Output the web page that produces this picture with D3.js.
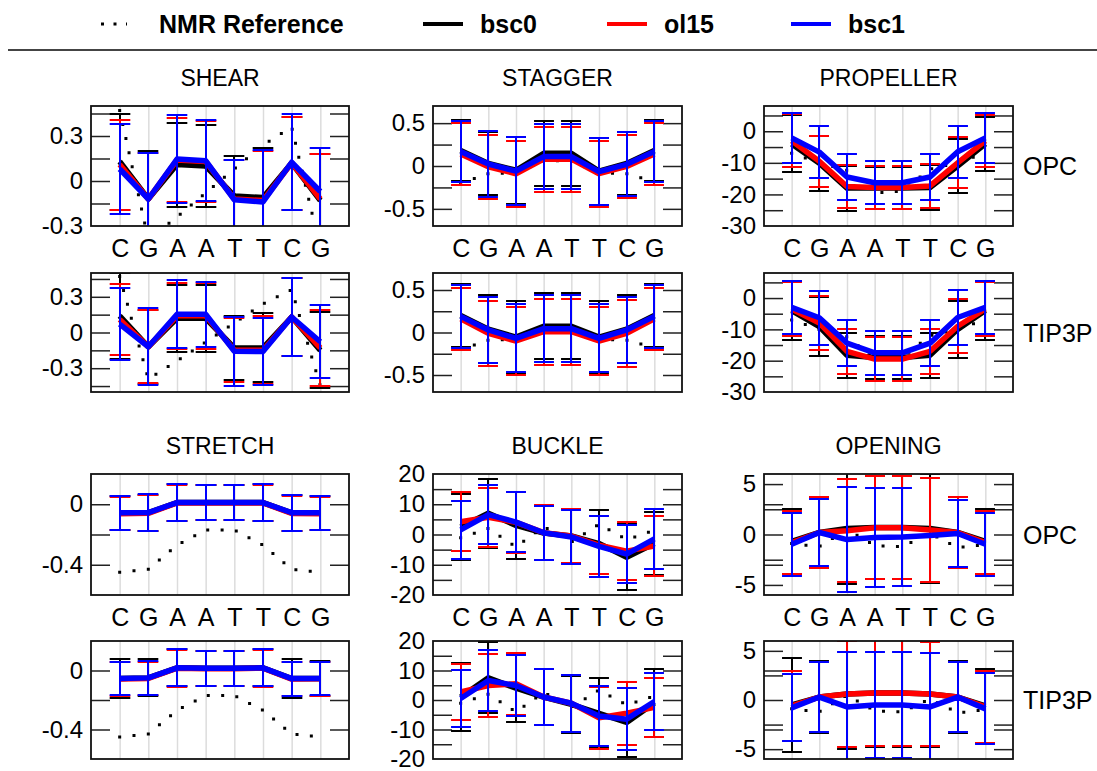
<!DOCTYPE html>
<html lang="en">
<head>
	<meta charset="utf-8" />
	<title>Base pair parameters</title>
	<style>
		* { padding: 0; margin: 0; }
		body { background: white; }
		svg { display: block; font-family: "Liberation Sans", Arial, sans-serif; }
	</style>
</head>
<body>

<script src="https://d3js.org/d3.v7.min.js"></script>

<div id="chart"></div>

<script>

	// ---- data ----
	var bases = ["C", "G", "A", "A", "T", "T", "C", "G"];
	var seriesNames = ["bsc0", "ol15", "bsc1"];
	var seriesColors = ["#000000", "#ff0000", "#0000ff"];

	var nmrShear = [0.47, -0.39, -0.24, -0.08, 0.08, 0.24, 0.36, -0.45];
	var nmrStagger = [-0.2, -0.09, -0.08, 0.06, 0.06, -0.08, -0.09, -0.18];
	var nmrPropeller = [-7, -10, -12.4, -19.5, -19, -12, -10, -6.8];
	var nmrStretch = [-0.45, -0.43, -0.27, -0.17, -0.17, -0.27, -0.43, -0.45];
	var nmrBuckle = [-1.1, 2.0, -4.1, 2.6, -2.5, 3.4, -1.7, 1.4];
	var nmrOpening = [-0.9, -1.2, 0.5, -1.1, -1.2, 0.1, -1.3, -1.0];

	var shearOpcBsc0 = [0.13, -0.12, 0.11, 0.10, -0.10, -0.11, 0.12, -0.13];
	var shearOpcOl15 = [0.11, -0.12, 0.14, 0.13, -0.12, -0.13, 0.12, -0.12];
	var shearOpcBsc1 = [0.08, -0.12, 0.146, 0.135, -0.125, -0.14, 0.125, -0.07];
	var shearOpcBsc0Sd = [0.32, 0.32, 0.28, 0.275, 0.27, 0.33, 0.31, 0.31];
	var shearOpcOl15Sd = [0.30, 0.31, 0.28, 0.27, 0.26, 0.33, 0.31, 0.30];
	var shearOpcBsc1Sd = [0.30, 0.31, 0.295, 0.27, 0.265, 0.35, 0.32, 0.29];

	var shearTipBsc0 = [0.14, -0.12, 0.12, 0.12, -0.13, -0.13, 0.13, -0.15];
	var shearTipOl15 = [0.11, -0.12, 0.14, 0.14, -0.15, -0.15, 0.13, -0.13];
	var shearTipBsc1 = [0.07, -0.12, 0.153, 0.153, -0.158, -0.16, 0.13, -0.078];
	var shearTipBsc0Sd = [0.36, 0.31, 0.28, 0.28, 0.27, 0.29, 0.325, 0.32];
	var shearTipOl15Sd = [0.30, 0.305, 0.28, 0.28, 0.27, 0.285, 0.33, 0.32];
	var shearTipBsc1Sd = [0.305, 0.325, 0.285, 0.275, 0.29, 0.28, 0.325, 0.305];

	var staggerOpcBsc0 = [0.18, 0.03, -0.05, 0.148, 0.148, -0.06, 0.03, 0.18];
	var staggerOpcOl15 = [0.14, -0.01, -0.09, 0.08, 0.08, -0.09, -0.005, 0.14];
	var staggerOpcBsc1 = [0.17, 0.023, -0.06, 0.11, 0.11, -0.065, 0.02, 0.17];
	var staggerOpcBsc0Sd = [0.36, 0.37, 0.39, 0.38, 0.38, 0.39, 0.37, 0.36];
	var staggerOpcOl15Sd = [0.36, 0.37, 0.385, 0.38, 0.38, 0.385, 0.37, 0.36];
	var staggerOpcBsc1Sd = [0.355, 0.38, 0.395, 0.38, 0.38, 0.395, 0.375, 0.355];

	var staggerTipBsc0 = [0.2, 0.04, -0.054, 0.074, 0.074, -0.054, 0.04, 0.2];
	var staggerTipOl15 = [0.16, -0.01, -0.1, 0.01, 0.01, -0.1, -0.01, 0.16];
	var staggerTipBsc1 = [0.19, 0.03, -0.07, 0.045, 0.045, -0.07, 0.03, 0.19];
	var staggerTipBsc0Sd = [0.37, 0.4, 0.42, 0.39, 0.39, 0.42, 0.4, 0.37];
	var staggerTipOl15Sd = [0.36, 0.385, 0.4, 0.39, 0.39, 0.4, 0.39, 0.36];
	var staggerTipBsc1Sd = [0.37, 0.39, 0.4, 0.395, 0.395, 0.4, 0.39, 0.37];

	var propellerOpcBsc0 = [-4, -10.1, -18, -18, -18, -17.8, -11, -4];
	var propellerOpcOl15 = [-3, -9.5, -17.5, -17.8, -17.8, -17.3, -10, -3];
	var propellerOpcBsc1 = [-2.1, -6.6, -14.5, -16.3, -16.3, -14.5, -6.5, -2.1];
	var propellerOpcBsc0Sd = [9, 8.7, 7.1, 6.75, 6.75, 7.1, 8.7, 8.5];
	var propellerOpcOl15Sd = [8.4, 8.1, 6.9, 6.75, 6.75, 6.9, 8.1, 8.2];
	var propellerOpcBsc1Sd = [7.8, 8.3, 7.25, 6.8, 6.8, 7.25, 8.3, 7.8];

	var propellerTipBsc0 = [-4, -9.1, -18.3, -19, -19, -18.3, -10, -4];
	var propellerTipOl15 = [-3.5, -8, -17, -19.5, -19.5, -17, -9, -3.5];
	var propellerTipBsc1 = [-3, -6.3, -14.4, -17.5, -17.5, -14.4, -6.2, -3];
	var propellerTipBsc0Sd = [9.5, 9.5, 7.3, 6.9, 6.9, 7.3, 9.2, 9.3];
	var propellerTipOl15Sd = [8.6, 8.6, 7.25, 7.1, 7.1, 7.25, 8.6, 8.6];
	var propellerTipBsc1Sd = [8.45, 8.65, 7.3, 6.95, 6.95, 7.3, 8.7, 8.4];

	var stretchOpcBsc0 = [-0.058, -0.056, 0.011, 0.011, 0.011, 0.011, -0.057, -0.058];
	var stretchOpcOl15 = [-0.062, -0.06, 0.009, 0.009, 0.009, 0.009, -0.061, -0.062];
	var stretchOpcBsc1 = [-0.057, -0.055, 0.011, 0.011, 0.011, 0.011, -0.056, -0.057];
	var stretchOpcBsc0Sd = [0.11, 0.12, 0.12, 0.116, 0.116, 0.12, 0.118, 0.11];
	var stretchOpcOl15Sd = [0.11, 0.12, 0.12, 0.116, 0.116, 0.12, 0.118, 0.11];
	var stretchOpcBsc1Sd = [0.11, 0.12, 0.12, 0.116, 0.116, 0.12, 0.118, 0.11];

	var stretchTipBsc0 = [-0.054, -0.05, 0.018, 0.015, 0.015, 0.018, -0.055, -0.055];
	var stretchTipOl15 = [-0.058, -0.054, 0.016, 0.012, 0.012, 0.016, -0.058, -0.056];
	var stretchTipBsc1 = [-0.055, -0.05, 0.018, 0.015, 0.015, 0.018, -0.055, -0.055];
	var stretchTipBsc0Sd = [0.13, 0.125, 0.125, 0.12, 0.12, 0.125, 0.13, 0.118];
	var stretchTipOl15Sd = [0.113, 0.115, 0.125, 0.12, 0.12, 0.125, 0.115, 0.115];
	var stretchTipBsc1Sd = [0.113, 0.113, 0.125, 0.12, 0.12, 0.125, 0.115, 0.113];

	var buckleOpcBsc0 = [2.5, 7, 3, 0.5, -0.5, -3, -7.5, -3];
	var buckleOpcOl15 = [4.2, 5.7, 4, 0.6, -0.5, -3.5, -5.5, -3.8];
	var buckleOpcBsc1 = [1.5, 6.6, 4.1, 0.56, -0.8, -3.9, -6.5, -1.45];
	var buckleOpcBsc0Sd = [11, 11.5, 11.2, 9, 9, 11, 10.9, 10.5];
	var buckleOpcOl15Sd = [9.8, 9.8, 10, 9, 9, 9.5, 9.6, 10];
	var buckleOpcBsc1Sd = [9.6, 9.8, 9.95, 8.9, 8.8, 10, 9.6, 9.9];

	var buckleTipBsc0 = [1, 7.5, 4, 1, -1.5, -4.5, -7.6, -1];
	var buckleTipOl15 = [2.7, 4.9, 5.5, 1, -1.1, -6, -4.5, -2.5];
	var buckleTipBsc1 = [0.5, 6.6, 4.9, 1, -1.1, -5.4, -6.5, -0.5];
	var buckleTipBsc0Sd = [11.5, 12, 11.5, 9.4, 9.6, 11.8, 11.8, 11.4];
	var buckleTipOl15Sd = [9.5, 10.6, 10.5, 9.4, 9.6, 10.5, 10.6, 9.9];
	var buckleTipBsc1Sd = [9.8, 10.4, 10.2, 9.4, 9.6, 10.3, 10.4, 9.8];

	var openingOpcBsc0 = [-0.67, 0.2, 0.6, 0.7, 0.7, 0.6, 0.2, -0.67];
	var openingOpcOl15 = [-0.8, 0.2, 0.37, 0.67, 0.67, 0.45, 0.2, -0.8];
	var openingOpcBsc1 = [-0.97, 0.2, -0.5, -0.3, -0.25, -0.1, 0.1, -0.97];
	var openingOpcBsc0Sd = [3.2, 3.5, 5.5, 5.1, 5.1, 5.4, 3.5, 3.2];
	var openingOpcOl15Sd = [3.1, 3.5, 5.1, 5.1, 5.1, 5.2, 3.5, 3.1];
	var openingOpcBsc1Sd = [3.1, 3.3, 5.2, 4.9, 4.9, null, 3.3, 3.1];

	var openingTipBsc0 = [-0.5, 0.3, 0.6, 0.7, 0.7, 0.6, 0.3, -0.6];
	var openingTipOl15 = [-0.6, 0.3, 0.6, 0.7, 0.7, 0.6, 0.3, -0.7];
	var openingTipBsc1 = [-0.8, 0.3, -0.7, -0.5, -0.5, -0.7, 0.3, -0.9];
	var openingTipBsc0Sd = [4.8, 3.7, 5.6, 5.5, 5.5, 5.4, 3.7, 3.8];
	var openingTipOl15Sd = [3.6, 3.6, 5.4, 5.4, 5.4, 5.3, 3.6, 3.7];
	var openingTipBsc1Sd = [3.4, 3.6, 5.6, 5.4, 5.4, 5.5, 3.6, 3.6];

	// axis ticks and tick labels
	var shearOpcTicks = [-0.15, 0, 0.15, 0.3, 0.45];
	var shearTipTicks = [-0.45, -0.3, -0.15, 0, 0.15, 0.3, 0.45];
	var shearLabels = [-0.3, 0, 0.3];
	var staggerTicks = [-0.5, -0.25, 0, 0.25, 0.5];
	var staggerLabels = [-0.5, 0, 0.5];
	var propellerTicks = [5, 0, -5, -10, -15, -20, -25];
	var propellerLabels = [0, -10, -20, -30];
	var stretchTicks = [0, -0.2, -0.4];
	var stretchLabels = [0, -0.4];
	var buckleTicks = [15, 10, 5, 0, -5, -10, -15];
	var buckleLabels = [20, 10, 0, -10, -20];
	var openingTicks = [5, 3, 2.5, 0, -2.5, -3, -5];
	var openingLabels = [5, 0, -5];

	// ---- layout ----
	var W = 1097, H = 771;
	var colX = [[91, 349], [433, 682], [764, 1013]];
	var rowY = [[106, 226], [273, 392], [474, 595], [641, 759]];

	var panels = [
		{title: "SHEAR", water: "OPC", col: 0, row: 0, domain: [-0.3, 0.5], ticks: shearOpcTicks, labels: shearLabels, nmr: nmrShear,
		 means: [shearOpcBsc0, shearOpcOl15, shearOpcBsc1], sds: [shearOpcBsc0Sd, shearOpcOl15Sd, shearOpcBsc1Sd]},
		{title: "SHEAR", water: "TIP3P", col: 0, row: 1, domain: [-0.5, 0.5], ticks: shearTipTicks, labels: shearLabels, nmr: nmrShear,
		 means: [shearTipBsc0, shearTipOl15, shearTipBsc1], sds: [shearTipBsc0Sd, shearTipOl15Sd, shearTipBsc1Sd]},
		{title: "STAGGER", water: "OPC", col: 1, row: 0, domain: [-0.7, 0.7], ticks: staggerTicks, labels: staggerLabels, nmr: nmrStagger,
		 means: [staggerOpcBsc0, staggerOpcOl15, staggerOpcBsc1], sds: [staggerOpcBsc0Sd, staggerOpcOl15Sd, staggerOpcBsc1Sd]},
		{title: "STAGGER", water: "TIP3P", col: 1, row: 1, domain: [-0.7, 0.7], ticks: staggerTicks, labels: staggerLabels, nmr: nmrStagger,
		 means: [staggerTipBsc0, staggerTipOl15, staggerTipBsc1], sds: [staggerTipBsc0Sd, staggerTipOl15Sd, staggerTipBsc1Sd]},
		{title: "PROPELLER", water: "OPC", col: 2, row: 0, domain: [-30, 8], ticks: propellerTicks, labels: propellerLabels, nmr: nmrPropeller,
		 means: [propellerOpcBsc0, propellerOpcOl15, propellerOpcBsc1], sds: [propellerOpcBsc0Sd, propellerOpcOl15Sd, propellerOpcBsc1Sd]},
		{title: "PROPELLER", water: "TIP3P", col: 2, row: 1, domain: [-30, 8], ticks: propellerTicks, labels: propellerLabels, nmr: nmrPropeller,
		 means: [propellerTipBsc0, propellerTipOl15, propellerTipBsc1], sds: [propellerTipBsc0Sd, propellerTipOl15Sd, propellerTipBsc1Sd]},
		{title: "STRETCH", water: "OPC", col: 0, row: 2, domain: [-0.6, 0.2], ticks: stretchTicks, labels: stretchLabels, nmr: nmrStretch,
		 means: [stretchOpcBsc0, stretchOpcOl15, stretchOpcBsc1], sds: [stretchOpcBsc0Sd, stretchOpcOl15Sd, stretchOpcBsc1Sd]},
		{title: "STRETCH", water: "TIP3P", col: 0, row: 3, domain: [-0.6, 0.2], ticks: stretchTicks, labels: stretchLabels, nmr: nmrStretch,
		 means: [stretchTipBsc0, stretchTipOl15, stretchTipBsc1], sds: [stretchTipBsc0Sd, stretchTipOl15Sd, stretchTipBsc1Sd]},
		{title: "BUCKLE", water: "OPC", col: 1, row: 2, domain: [-20, 20], ticks: buckleTicks, labels: buckleLabels, nmr: nmrBuckle,
		 means: [buckleOpcBsc0, buckleOpcOl15, buckleOpcBsc1], sds: [buckleOpcBsc0Sd, buckleOpcOl15Sd, buckleOpcBsc1Sd]},
		{title: "BUCKLE", water: "TIP3P", col: 1, row: 3, domain: [-20, 20], ticks: buckleTicks, labels: buckleLabels, nmr: nmrBuckle,
		 means: [buckleTipBsc0, buckleTipOl15, buckleTipBsc1], sds: [buckleTipBsc0Sd, buckleTipOl15Sd, buckleTipBsc1Sd]},
		{title: "OPENING", water: "OPC", col: 2, row: 2, domain: [-6, 6], ticks: openingTicks, labels: openingLabels, nmr: nmrOpening,
		 means: [openingOpcBsc0, openingOpcOl15, openingOpcBsc1], sds: [openingOpcBsc0Sd, openingOpcOl15Sd, openingOpcBsc1Sd]},
		{title: "OPENING", water: "TIP3P", col: 2, row: 3, domain: [-6, 6], ticks: openingTicks, labels: openingLabels, nmr: nmrOpening,
		 means: [openingTipBsc0, openingTipOl15, openingTipBsc1], sds: [openingTipBsc0Sd, openingTipOl15Sd, openingTipBsc1Sd]}
	];

	var svg = d3.select("#chart").append("svg")
		.attr("width", W)
		.attr("height", H);
	var defs = svg.append("defs");

	var fmt = function(d) { return String(d); };

	// ---- legend ----
	var legend = svg.append("g");
	legend.append("line")
		.attr("x1", 101).attr("x2", 127).attr("y1", 24).attr("y2", 24)
		.attr("stroke", "#000").attr("stroke-width", 3)
		.attr("stroke-dasharray", "3,9.5");
	legend.append("text")
		.attr("x", 159).attr("y", 33)
		.attr("font-size", 25).attr("font-weight", "bold")
		.text("NMR Reference");
	var legX = [423, 607, 791];
	seriesNames.forEach(function(name, i) {
		legend.append("line")
			.attr("x1", legX[i]).attr("x2", legX[i] + 40).attr("y1", 24).attr("y2", 24)
			.attr("stroke", seriesColors[i]).attr("stroke-width", 4);
		legend.append("text")
			.attr("x", legX[i] + 57).attr("y", 33)
			.attr("font-size", 25).attr("font-weight", "bold")
			.text(name);
	});
	svg.append("line")
		.attr("x1", 8).attr("x2", W).attr("y1", 50).attr("y2", 50)
		.attr("stroke", "#444").attr("stroke-width", 2);

	// ---- panels ----
	var drawPanel = function(p, k) {
		var x0 = colX[p.col][0], x1 = colX[p.col][1];
		var y0 = rowY[p.row][0], y1 = rowY[p.row][1];
		var xScale = d3.scaleLinear().domain([0, 9]).range([x0, x1]);
		var yScale = d3.scaleLinear().domain(p.domain).range([y1, y0]);
		var step = xScale(2) - xScale(1);
		var capW = step * 0.36;
		var idx = d3.range(1, 9);
		// snapped x for crisp error bars
		var xs = function(i) { return Math.round(xScale(i)); };

		var g = svg.append("g");

		// vertical grid
		g.append("g")
			.attr("transform", "translate(0," + y1 + ")")
			.attr("color", "#dcdcdc")
			.call(d3.axisBottom(xScale).tickValues(idx).tickSize(-(y1 - y0)).tickFormat(""))
			.call(function(a) { a.select(".domain").remove(); a.selectAll("line").attr("stroke-width", 1.5); });

		// inward ticks both sides
		g.append("g")
			.attr("transform", "translate(" + x0 + ",0)")
			.attr("color", "#222")
			.call(d3.axisLeft(yScale).tickValues(p.ticks).tickSize(-19).tickFormat(""))
			.call(function(a) { a.select(".domain").remove(); a.selectAll("line").attr("stroke-width", 1.5); });
		g.append("g")
			.attr("transform", "translate(" + x1 + ",0)")
			.attr("color", "#222")
			.call(d3.axisRight(yScale).tickValues(p.ticks).tickSize(-19).tickFormat(""))
			.call(function(a) { a.select(".domain").remove(); a.selectAll("line").attr("stroke-width", 1.5); });

		var clipId = "clip" + k;
		defs.append("clipPath").attr("id", clipId)
			.append("rect")
			.attr("x", x0).attr("y", y0)
			.attr("width", x1 - x0).attr("height", y1 - y0);
		var inner = g.append("g").attr("clip-path", "url(#" + clipId + ")");

		var line = d3.line()
			.x(function(d, i) { return xScale(i + 1); })
			.y(function(d) { return yScale(d); });

		// NMR dotted reference
		inner.append("path")
			.datum(p.nmr)
			.attr("d", line)
			.attr("fill", "none")
			.attr("stroke", "#000")
			.attr("stroke-width", 3)
			.attr("stroke-dasharray", "0,14.4")
			.attr("stroke-linecap", "square");

		p.means.forEach(function(m, s) {
			var col = seriesColors[s];
			var sd = p.sds[s];
			var eb = idx.filter(function(i) { return sd[i - 1] != null; });
			var bars = inner.append("g").attr("stroke", col);
			bars.selectAll(".v").data(eb).enter().append("line")
				.attr("x1", xs)
				.attr("x2", xs)
				.attr("y1", function(i) { return yScale(m[i - 1] - sd[i - 1]); })
				.attr("y2", function(i) { return yScale(m[i - 1] + sd[i - 1]); })
				.attr("stroke-width", 2);
			[-1, 1].forEach(function(sgn) {
				bars.selectAll(".c" + sgn).data(eb).enter().append("line")
					.attr("x1", function(i) { return xs(i) - capW; })
					.attr("x2", function(i) { return xs(i) + capW; })
					.attr("y1", function(i) { return Math.round(yScale(m[i - 1] + sgn * sd[i - 1])); })
					.attr("y2", function(i) { return Math.round(yScale(m[i - 1] + sgn * sd[i - 1])); })
					.attr("stroke-width", 2);
			});
			inner.append("path")
				.datum(m)
				.attr("d", line)
				.attr("fill", "none")
				.attr("stroke", col)
				.attr("stroke-width", 5.5)
				.attr("stroke-linejoin", "round");
		});

		// frame
		g.append("rect")
			.attr("x", x0).attr("y", y0)
			.attr("width", x1 - x0).attr("height", y1 - y0)
			.attr("fill", "none")
			.attr("stroke", "#111")
			.attr("stroke-width", 1.8);

		// y tick labels
		g.append("g")
			.attr("transform", "translate(" + x0 + ",0)")
			.call(d3.axisLeft(yScale).tickValues(p.labels).tickSize(0).tickPadding(8).tickFormat(fmt))
			.call(function(a) {
				a.select(".domain").remove();
				a.attr("font-size", 24).attr("font-family", null);
				a.selectAll("text").attr("fill", "#000");
			});

		// base labels under the top panel of each group
		if (p.row == 0 || p.row == 2) {
			g.append("g")
				.attr("transform", "translate(0," + y1 + ")")
				.call(d3.axisBottom(xScale).tickValues(idx).tickSize(0).tickPadding(13)
					.tickFormat(function(i) { return bases[i - 1]; }))
				.call(function(a) {
					a.select(".domain").remove();
					a.attr("font-size", 25).attr("font-family", null);
					a.selectAll("text").attr("fill", "#000");
				});
			g.append("text")
				.attr("x", (x0 + x1) / 2)
				.attr("y", y0 - 20)
				.attr("text-anchor", "middle")
				.attr("font-size", 23)
				.text(p.title);
		}

		if (p.col == 2) {
			g.append("text")
				.attr("x", 1023)
				.attr("y", (y0 + y1) / 2 + 9)
				.attr("font-size", 25)
				.text(p.water);
		}
	};

	panels.forEach(drawPanel);

</script>

</body>
</html>
